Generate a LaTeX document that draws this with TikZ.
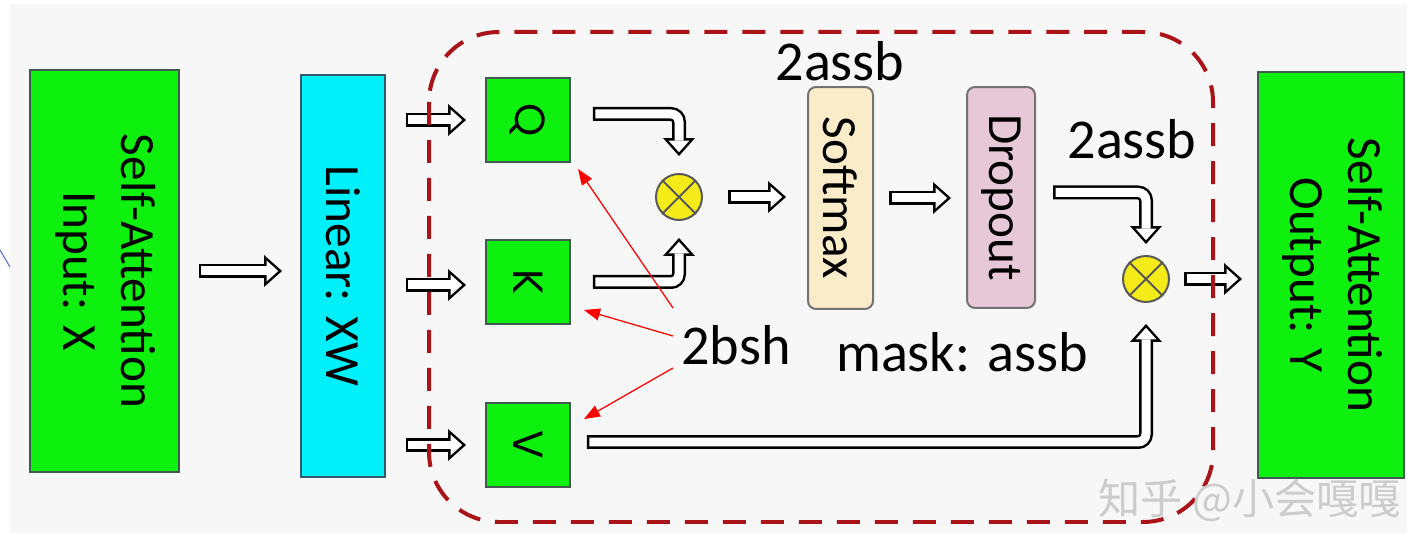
\documentclass[tikz,border=0pt]{standalone}
\usepackage{fontspec}
\setmainfont{Carlito}
\newfontfamily\letterfont{Poppins}
\newfontfamily\cjkfont{Noto Sans CJK SC}
\usetikzlibrary{calc, arrows.meta}
\definecolor{boxgreen}{RGB}{14,240,14}
\definecolor{boxcyan}{RGB}{0,240,250}
\definecolor{softbeige}{RGB}{250,236,200}
\definecolor{droppink}{RGB}{230,200,215}
\definecolor{multyellow}{RGB}{245,235,25}
\definecolor{dashred}{RGB}{170,20,25}
\definecolor{bggray}{RGB}{247,247,247}
\definecolor{edgegray}{RGB}{65,90,80}
\definecolor{linedge}{RGB}{50,90,105}
\definecolor{strayblue}{RGB}{70,110,200}
\tikzset{
    block/.style={draw=edgegray, line width=0.04cm, inner sep=0pt, font=\fontsize{28}{33}\selectfont},
    qkv/.style={block, fill=boxgreen, minimum size=1.68cm, font=\letterfont\fontsize{24}{28}\selectfont},
    stage/.style={block, draw=black!55, rounded corners=0.16cm},
    mult/.style={circle, draw=black!65, line width=0.04cm, fill=multyellow, minimum size=0.92cm, inner sep=0pt},
    crossline/.style={black!65, line width=0.04cm},
    hollow/.style={
        draw=white, line width=0.18cm, rounded corners=0.16cm,
        shorten <=0.05cm, shorten >=0.075cm,
        -{Triangle[length=0.234cm, width=0.418cm, line width=0pt]},
        preaction={draw=black, line width=0.28cm, shorten <=0pt, shorten >=0pt,
            -{Triangle[length=0.36cm, width=0.64cm, line width=0pt]}}
    },
    note/.style={font=\fontsize{32}{38}\selectfont, inner sep=0pt},
    pointer/.style={red, line width=0.025cm, -{Triangle[length=0.32cm, width=0.24cm]}},
    common settings/.style={x=0.02cm, y=-0.02cm}
}
\begin{document}
\begin{tikzpicture}[common settings]

    % Canvas
    \useasboundingbox (0,0) rectangle (1407,533);
    \fill[bggray] (10,4) rectangle (1407,533);
    \draw[strayblue, line width=0.02cm] (0,250) -- (10,267);

    % Blocks
    \node[block, fill=boxgreen, minimum width=2.98cm, minimum height=8.04cm] (in) at (104.5,271)
        {\rotatebox{-90}{\begin{tabular}{@{}c@{}}Self-Attention\\Input: X\end{tabular}}};
    \node[block, fill=boxcyan, draw=linedge, minimum width=1.68cm, minimum height=8.04cm] (lin) at (343,276)
        {\rotatebox{-90}{Linear: XW}};
    \node[qkv] (q) at (528,120) {\rotatebox{-90}{Q}};
    \node[qkv] (k) at (528,282) {\rotatebox{-90}{K}};
    \node[qkv] (v) at (528,445) {\rotatebox{-90}{V}};
    \node[mult] (m1) at (679,197) {};
    \node[stage, fill=softbeige, minimum width=1.30cm, minimum height=4.44cm] (sm) at (840.5,198)
        {\rotatebox{-90}{Softmax}};
    \node[stage, fill=droppink, minimum width=1.36cm, minimum height=4.42cm] (dp) at (1001,197.5)
        {\rotatebox{-90}{Dropout}};
    \node[mult] (m2) at (1146,279) {};
    \node[block, fill=boxgreen, minimum width=2.92cm, minimum height=8.12cm] (out) at (1331,275)
        {\rotatebox{-90}{\begin{tabular}{@{}c@{}}Self-Attention\\Output: Y\end{tabular}}};
    \foreach \m in {m1, m2}
        \draw[crossline] (\m.north west) -- (\m.south east) (\m.north east) -- (\m.south west);

    % Hollow arrows
    \draw[hollow] ($(in.east)+(19,0)$) -- ($(in.east -| lin.west)+(-18,0)$);
    \foreach \t/\dy in {q/0, k/3, v/0}
        \draw[hollow] ($(\t.west -| lin.east)+(20,\dy)$) -- ($(\t.west)+(-19,\dy)$);
    \draw[hollow] ($(q.east)+(22,-6)$) -| ($(m1.north)+(0,-17)$);
    \draw[hollow] ($(k.east)+(22,0)$) -| ($(m1.south)+(0,17)$);
    \draw[hollow] ($(m1.east)+(25,0)$) -- ($(m1.east -| sm.west)+(-21,0)$);
    \draw[hollow] ($(sm.east)+(15,0)$) -- ($(sm.east -| dp.west)+(-15,0)$);
    \draw[hollow] ($(dp.east)+(17,-5)$) -| ($(m2.north)+(0,-11)$);
    \draw[hollow] ($(v.east)+(16,-3)$) -| ($(m2.south)+(0,21)$);
    \draw[hollow] ($(m2.east)+(14,0)$) -- ($(m2.east -| out.west)+(-15,0)$);

    % Attention region
    \draw[dashred, line width=0.08cm, dash pattern=on 0.46cm off 0.3cm, rounded corners=1.4cm]
        (429,32) rectangle (1213,522);

    % Shape notes
    \node[note] (sz1) at (840,61) {2assb};
    \node[note] (sz2) at (1132,139) {2assb};
    \node[note] (bsh) at (736,345) {2bsh};
    \node[note] (mask) at (962,352) {mask: assb};
    \draw[pointer] ($(bsh.west)+(-8,-37)$) -- ($(q.south east)+(7,6)$);
    \draw[pointer] ($(bsh.west)+(-8,-9)$) -- ($(k.south east)+(13,-15)$);
    \draw[pointer] ($(bsh.west)+(-8,23)$) -- ($(v.north east)+(13,17)$);

    % Watermark
    \node[anchor=west, font=\cjkfont\fontsize{24}{24}\selectfont, text=black!20, inner sep=0pt] (wm) at (1098,500)
        {知乎 @小会嘎嘎};

\end{tikzpicture}
\end{document}
